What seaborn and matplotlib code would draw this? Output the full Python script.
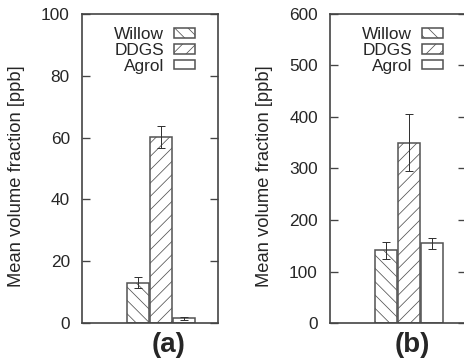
import pandas as pd
import numpy as np
import matplotlib
matplotlib.use('Agg')
import matplotlib.pyplot as plt
import seaborn as sns

# values
materials = ['Willow', 'DDGS', 'Agrol']
panel_labels = ['(a)', '(b)']
means_a = [13.1, 60.1, 1.6]
errors_a = [1.7, 3.6, 0.5]
means_b = [141, 350, 155]
errors_b = [16, 55, 11]
ylims = [(0, 100), (0, 600)]
yticks = [np.arange(0, 101, 20), np.arange(0, 601, 100)]
hatches = ['\\\\', '//', '']

sns.set_style('white')
plt.rcParams['font.family'] = ['Liberation Sans', 'DejaVu Sans']
plt.rcParams['hatch.linewidth'] = 0.7
plt.rcParams['hatch.color'] = '#444444'

edge = '#555555'
fig = plt.figure(figsize=(5.8, 4.55), dpi=80)
ax_a = fig.add_axes([0.1767, 0.1126, 0.2931, 0.849])
ax_b = fig.add_axes([0.7112, 0.1126, 0.2931, 0.849])

for ax, label, means, errs, ylim, yt, lx in zip(
        [ax_a, ax_b], panel_labels, [means_a, means_b], [errors_a, errors_b],
        ylims, yticks, [0.64, 0.605]):
    df = pd.DataFrame({'panel': label, 'material': materials, 'value': means})
    sns.barplot(data=df, x='panel', y='value', hue='material', hue_order=materials,
                palette=['white'] * 3, edgecolor=edge, linewidth=1.4,
                width=0.8, gap=0.08, errorbar=None, legend=False, ax=ax)
    xs = []
    for cont, h in zip(ax.containers, hatches):
        for p in cont:
            p.set_hatch(h)
            xs.append(p.get_x() + p.get_width() / 2)
    ax.errorbar(xs, means, yerr=errs, fmt='none', ecolor='#333333',
                elinewidth=0.9, capsize=3.5, capthick=0.9, zorder=5)

    ax.set_xlim(-0.916, 0.661)
    ax.set_ylim(*ylim)
    ax.set_yticks(yt)
    ax.set_xticks([])
    ax.text(lx, -0.028, label, transform=ax.transAxes, ha='center', va='top',
            fontsize=25, fontweight='bold')
    ax.tick_params(axis='y', direction='in', length=7, width=1.2, color='#444444',
                   labelsize=15.5, pad=11, right=True, left=True)
    ax.set_xlabel('')
    ax.set_ylabel('Mean volume fraction [ppb]', fontsize=16.5)
    ax.yaxis.set_label_coords(-0.42, 0.475)
    for s in ax.spines.values():
        s.set_color('#444444')
        s.set_linewidth(1.5)

    ax.legend(handles=ax.containers, labels=materials, loc='upper right',
              bbox_to_anchor=(0.897, 0.985), frameon=False, markerfirst=False,
              fontsize=15.5, handlelength=1.25, handleheight=0.45,
              handletextpad=0.55, labelspacing=0.05, borderpad=0)

fig.savefig('out.png', dpi=80)
